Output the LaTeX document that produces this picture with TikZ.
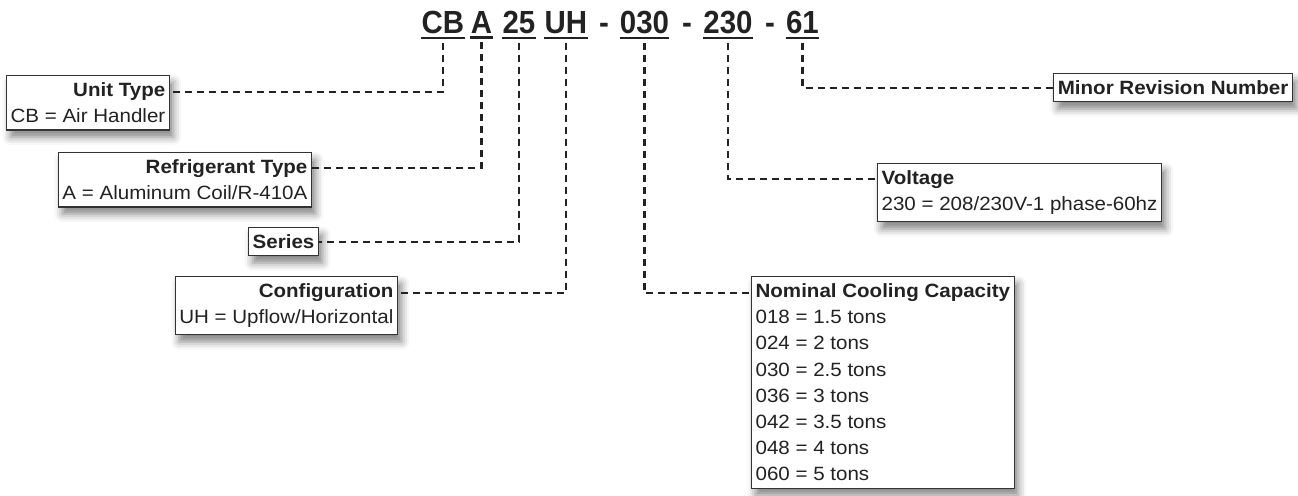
\documentclass[tikz,border=0pt]{standalone}
\usepackage{fontspec}
\setmainfont{Liberation Sans}[FakeStretch=1.07]
\newfontfamily\codefont{Liberation Sans}[FakeStretch=0.92]
\usepackage{tikz}
\usetikzlibrary{positioning,shadows.blur}
\definecolor{inkgray}{HTML}{222222}
\definecolor{framegray}{HTML}{333333}
% bold title set flush right over a wider description line
\newcommand{\ttl}[2]{\setbox0\hbox{#2}\hbox to \wd0{\hfill\textbf{#1}}\\#2}

\begin{document}
\begin{tikzpicture}[x=0.5pt, y=-0.5pt,
    box/.style={rectangle, draw=framegray, line width=0.6pt, fill=white,
                inner xsep=2pt, inner ysep=3.5pt, align=left, text=inkgray,
                font=\fontsize{9.6}{13.1}\selectfont,
                blur shadow={shadow xshift=2pt, shadow yshift=-3.5pt,
                             shadow blur radius=4pt, shadow opacity=50}},
    code/.style={inner sep=0pt, text=inkgray, anchor=base,
                 font=\codefont\fontsize{16}{19}\selectfont\bfseries},
    uline/.style={line width=1.2pt, inkgray},
    conn/.style={inkgray, line width=1.1pt, dash pattern=on 3.5pt off 2.5pt}
  ]
  \useasboundingbox (0,0) rectangle (1298,495);
  % model code
  \node[code] (cb) at (443,33) {CB};
  \node[code] (a) at (481.5,33) {A};
  \node[code] (s25) at (519,33) {25};
  \node[code] (uh) at (566,33) {UH};
  \node[code] (d1) at (604,33) {-};
  \node[code] (c030) at (644.5,33) {030};
  \node[code] (d2) at (687,33) {-};
  \node[code] (v230) at (728,33) {230};
  \node[code] (d3) at (770,33) {-};
  \node[code] (r61) at (802.5,33) {61};
  \foreach \n in {cb,a,s25,uh,c030,v230,r61}
    \draw[uline] ([yshift=-2pt]\n.south west) -- ([yshift=-2pt]\n.south east);

  % legend boxes
  \node[box, anchor=north west] (unit) at (6,75)
        {\ttl{Unit Type}{CB = Air Handler}};
  \node[box, anchor=north east] (refr) at (312,152)
        {\ttl{Refrigerant Type}{A = Aluminum Coil/R-410A}};
  \node[box, anchor=north east] (series) at (319,227) {\textbf{Series}};
  \node[box, anchor=north east] (config) at (398,276)
        {\ttl{Configuration}{UH = Upflow/Horizontal}};
  \node[box, anchor=north west] (nominal) at (751,276)
        {\textbf{Nominal Cooling Capacity}\\018 = 1.5 tons\\024 = 2 tons\\
         030 = 2.5 tons\\036 = 3 tons\\042 = 3.5 tons\\048 = 4 tons\\060 = 5 tons};
  \node[box, anchor=north west] (volt) at (877,163)
        {\textbf{Voltage}\\230 = 208/230V-1 phase-60hz};
  \node[box, anchor=north east] (minor) at (1293,73)
        {\textbf{Minor Revision Number}};

  % leaders
  \draw[conn] ([yshift=-4.5pt]cb.south) |- ([yshift=-8.5pt]unit.north east);
  \draw[conn] ([yshift=-4.5pt]a.south) |- ([yshift=-8pt]refr.north east);
  \draw[conn] ([yshift=-4.5pt]s25.south) |- (series.east);
  \draw[conn] ([yshift=-4.5pt]uh.south) |- ([yshift=-8.5pt]config.north east);
  \draw[conn] ([yshift=-4.5pt]c030.south) |- ([yshift=-8.5pt]nominal.north west);
  \draw[conn] ([yshift=-4.5pt]v230.south) |- ([yshift=-8pt]volt.north west);
  \draw[conn] ([yshift=-4.5pt]r61.south) |- (minor.west);
\end{tikzpicture}
\end{document}
